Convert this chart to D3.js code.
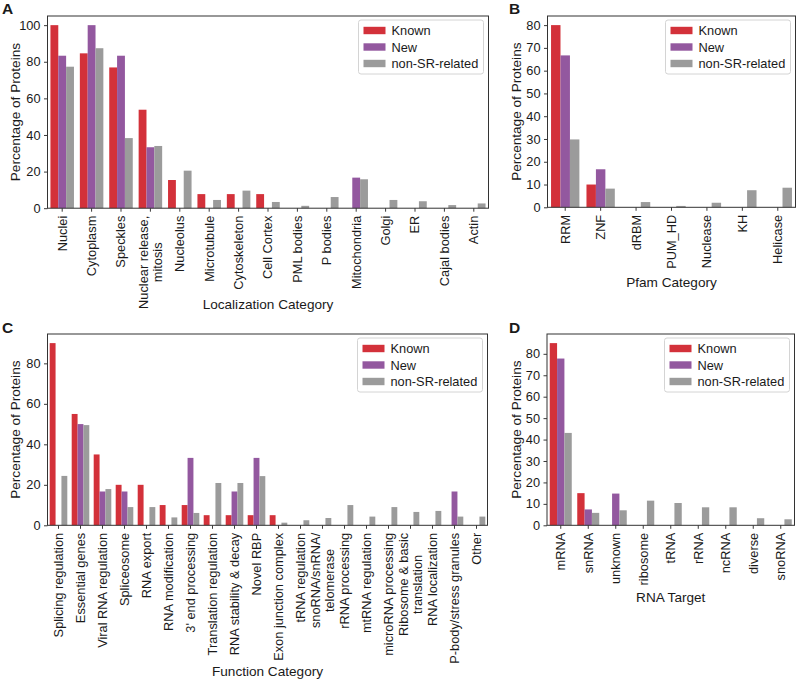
<!DOCTYPE html>
<html><head><meta charset="utf-8">
<script src="https://cdn.jsdelivr.net/npm/d3@7"></script>
<style>
body{margin:0;background:#fff}
text{font-family:"Liberation Sans",Arial,Helvetica,sans-serif;fill:#1a1a1a}
</style>
</head><body><svg id="c" width="797" height="679"></svg>
<script>
const seriesNames = ["Known", "New", "non-SR-related"];
const seriesColors = ["#d3313a", "#93589f", "#9b9b9b"];

// Panel A – Localization
const locCategories = ["Nuclei","Cytoplasm","Speckles","Nuclear release,\nmitosis","Nucleolus","Microtubule","Cytoskeleton","Cell Cortex","PML bodies","P bodies","Mitochondria","Golgi","ER","Cajal bodies","Actin"];
const locKnown  = [100, 84.6, 76.9, 53.8, 15.4, 7.7, 7.7, 7.7, 0, 0, 0, 0, 0, 0, 0];
const locNew    = [83.3, 100, 83.3, 33.3, 0, 0, 0, 0, 0, 0, 16.7, 0, 0, 0, 0];
const locNonSR  = [77.3, 87.4, 38.3, 34.0, 20.5, 4.5, 9.6, 3.4, 1.3, 6.1, 15.8, 4.5, 3.8, 1.7, 2.6];
const locTicks  = [0, 20, 40, 60, 80, 100];

// Panel B – Pfam
const pfamCategories = ["RRM","ZNF","dRBM","PUM_HD","Nuclease","KH","Helicase"];
const pfamKnown = [80, 10, 0, 0, 0, 0, 0];
const pfamNew   = [66.7, 16.7, 0, 0, 0, 0, 0];
const pfamNonSR = [29.8, 8.2, 2.3, 0.6, 2.0, 7.5, 8.6];
const pfamTicks = [0, 10, 20, 30, 40, 50, 60, 70, 80];

// Panel C – Function
const funCategories = ["Splicing regulation","Essential genes","Viral RNA regulation","Spliceosome","RNA export","RNA modification","3' end processing","Translation regulation","RNA stability & decay","Novel RBP","Exon junction complex","tRNA regulation","snoRNA/snRNA/\ntelomerase","rRNA processing","mtRNA regulation","microRNA processing","Ribosome & basic\ntranslation","RNA localization","P-body/stress granules","Other"];
const funKnown = [90, 55, 35, 20, 20, 10, 10, 5, 5, 5, 5, 0, 0, 0, 0, 0, 0, 0, 0, 0];
const funNew   = [0, 50, 16.7, 16.7, 0, 0, 33.3, 0, 16.7, 33.3, 0, 0, 0, 0, 0, 0, 0, 0, 16.7, 0];
const funNonSR = [24.4, 49.5, 17.9, 9.0, 9.0, 3.9, 6.1, 20.9, 20.9, 24.3, 1.3, 2.5, 3.6, 10.0, 4.3, 9.0, 6.6, 7.1, 4.3, 4.3];
const funTicks = [0, 20, 40, 60, 80];

// Panel D – RNA target
const rnaCategories = ["mRNA","snRNA","unknown","ribosome","tRNA","rRNA","ncRNA","diverse","snoRNA"];
const rnaKnown = [85, 15, 0, 0, 0, 0, 0, 0, 0];
const rnaNew   = [77.8, 7.4, 14.8, 0, 0, 0, 0, 0, 0];
const rnaNonSR = [43.1, 5.8, 7.0, 11.5, 10.4, 8.4, 8.4, 3.3, 2.8];
const rnaTicks = [0, 10, 20, 30, 40, 50, 60, 70, 80];

const panels = [
  {letter:"A", lx:2, ly:14, cats:locCategories, vals:[locKnown,locNew,locNonSR], ticks:locTicks,
   x0:47.5, x1:488.5, y0:16, y1:208.2, ymax:105, xlabel:"Localization Category", xly:309, yly:15},
  {letter:"B", lx:509, ly:14, cats:pfamCategories, vals:[pfamKnown,pfamNew,pfamNonSR], ticks:pfamTicks,
   x0:547.5, x1:795.5, y0:16, y1:207.3, ymax:84, xlabel:"Pfam Category", xly:287, yly:516},
  {letter:"C", lx:2, ly:333, cats:funCategories, vals:[funKnown,funNew,funNonSR], ticks:funTicks,
   x0:47.5, x1:487.5, y0:334, y1:525.3, ymax:94.5, xlabel:"Function Category", xly:676, yly:15},
  {letter:"D", lx:509, ly:333, cats:rnaCategories, vals:[rnaKnown,rnaNew,rnaNonSR], ticks:rnaTicks,
   x0:547, x1:794.5, y0:334, y1:525.3, ymax:89.25, xlabel:"RNA Target", xly:602, yly:516}
];

const svg = d3.select("#c");
const TICK_FS = 12.8, LABEL_FS = 13.6, LEG_FS = 12.8;

panels.forEach(p => {
  const g = svg.append("g");
  const x = d3.scaleBand().domain(p.cats).range([p.x0, p.x1]).padding(0);
  const xs = d3.scaleBand().domain(d3.range(3)).range([0.1*x.bandwidth(), 0.9*x.bandwidth()]).padding(0);
  const y = d3.scaleLinear().domain([0, p.ymax]).range([p.y1, p.y0]);

  // bars
  p.vals.forEach((arr, si) => {
    g.append("g").selectAll("rect").data(arr.map((v,i)=>({v, c:p.cats[i]})).filter(d=>d.v>0))
      .join("rect")
      .attr("x", d => x(d.c) + xs(si))
      .attr("width", xs.bandwidth())
      .attr("y", d => y(d.v))
      .attr("height", d => y(0) - y(d.v))
      .attr("fill", seriesColors[si]);
  });

  // y axis
  const ya = g.append("g").attr("transform", `translate(${p.x0},0)`)
    .call(d3.axisLeft(y).tickValues(p.ticks).tickSize(3.5).tickPadding(3.5).tickFormat(d3.format("d")));
  ya.select(".domain").remove();
  ya.selectAll("line").attr("stroke", "#222").attr("stroke-width", 0.9);
  ya.selectAll("text").attr("font-size", TICK_FS).style("font-family", '"Liberation Sans",Arial,sans-serif').attr("fill","#1a1a1a");

  // x axis ticks
  const xa = g.append("g").attr("transform", `translate(0,${p.y1})`)
    .call(d3.axisBottom(x).tickSize(3.5).tickFormat(""));
  xa.select(".domain").remove();
  xa.selectAll("line").attr("stroke", "#222").attr("stroke-width", 0.9);

  // rotated x tick labels (multi-line, centered)
  const lh = TICK_FS * 1.05;
  p.cats.forEach(c => {
    const lines = c.split("\n");
    const cx = x(c) + x.bandwidth()/2;
    const lg = g.append("g").attr("transform", `translate(${cx},${p.y1 + 7.5}) rotate(-90)`);
    const texts = lines.map((ln, i) => lg.append("text")
      .attr("font-size", TICK_FS)
      .attr("y", (i - (lines.length-1)/2) * lh)
      .attr("dy", "0.35em")
      .text(ln));
    const maxLen = d3.max(texts, t => t.node().getComputedTextLength());
    texts.forEach(t => t.attr("text-anchor", "middle").attr("x", -maxLen/2));
  });

  // frame
  g.append("rect").attr("x", p.x0).attr("y", p.y0).attr("width", p.x1-p.x0).attr("height", p.y1-p.y0)
    .attr("fill", "none").attr("stroke", "#333").attr("stroke-width", 1);

  // axis labels
  g.append("text").attr("x", (p.x0+p.x1)/2).attr("y", p.xly).attr("text-anchor", "middle")
    .attr("font-size", LABEL_FS).text(p.xlabel);
  g.append("text").attr("transform", `translate(${p.yly},${(p.y0+p.y1)/2}) rotate(-90)`)
    .attr("text-anchor", "middle").attr("dy", "0.35em").attr("font-size", LABEL_FS).text("Percentage of Proteins");

  // panel letter
  g.append("text").attr("x", p.lx).attr("y", p.ly).attr("font-size", 15.5).attr("font-weight", "bold").text(p.letter);

  // legend
  const bw = 125, bh = 54;
  const bx = p.x1 - 5 - bw, by = p.y0 + 4;
  const leg = g.append("g").attr("transform", `translate(${bx},${by})`);
  leg.append("rect").attr("x", 0).attr("y", 0).attr("width", bw).attr("height", bh).attr("rx", 2.5)
    .attr("fill", "#fff").attr("fill-opacity", 0.85).attr("stroke", "#d4d4d4").attr("stroke-width", 1);
  seriesNames.forEach((s, i) => {
    const cy = 10.5 + i * 16.5;
    leg.append("rect").attr("x", 5).attr("y", cy - 3.7).attr("width", 22).attr("height", 7.4).attr("fill", seriesColors[i]);
    leg.append("text").attr("x", 33).attr("y", cy).attr("dy", "0.36em").attr("font-size", LEG_FS).text(s);
  });
});
</script>
</body></html>
